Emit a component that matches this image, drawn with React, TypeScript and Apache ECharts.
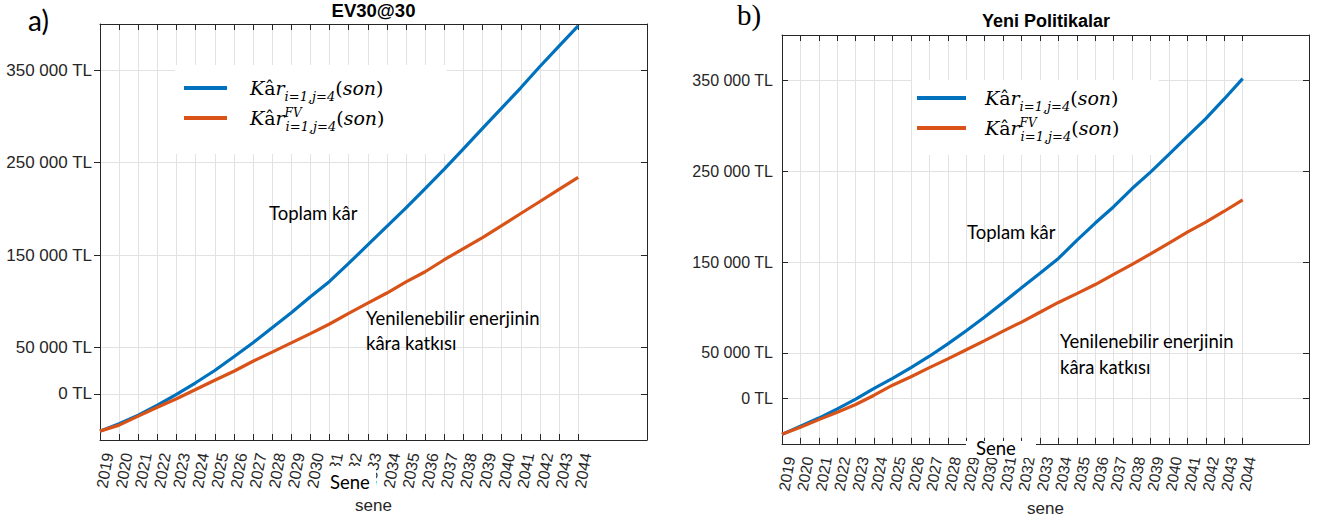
import React, { useEffect, useRef } from "react";
import * as echarts from "echarts";

// ---------- data ----------
const years = [2019, 2020, 2021, 2022, 2023, 2024, 2025, 2026, 2027, 2028, 2029, 2030, 2031, 2032, 2033, 2034, 2035, 2036, 2037, 2038, 2039, 2040, 2041, 2042, 2043, 2044];

// a) EV30@30
const aTotal = [-40400, -32300, -23100, -12300, -700, 11900, 25200, 40100, 55200, 71400, 87600, 104900, 121500, 141000, 161000, 181000, 201000, 222000, 243000, 265000, 287000, 309000, 331000, 354000, 376000, 398000];
const aFV = [-40400, -33900, -24200, -14500, -5400, 4600, 14700, 24400, 35200, 45000, 55100, 65100, 75500, 87000, 98000, 109000, 121000, 132000, 145000, 157000, 169000, 182000, 195000, 208000, 221000, 234000];

// b) Yeni Politikalar
const bTotal = [-39600, -30600, -21700, -11600, -900, 11000, 22000, 33900, 46400, 60000, 74400, 89500, 105600, 121700, 137800, 154000, 174000, 193000, 211000, 231000, 249000, 268600, 288400, 308000, 329600, 352000];
const bFV = [-39600, -31700, -23400, -15200, -6700, 3500, 14500, 23800, 33900, 43500, 53500, 63600, 74000, 84000, 94800, 105600, 115300, 125300, 136500, 147500, 159000, 171000, 183000, 194000, 206000, 218500];

const yTicks = [0, 50000, 150000, 250000, 350000];
const titles = ["EV30@30", "Yeni Politikalar"];
const xName = "sene";

// ---------- style ----------
const BLUE = "#0072BD";
const ORANGE = "#D95319";
const AXIS = "#262626";
const GRID = "#e2e2e2";
const SANS = "Liberation Sans";
const ANN = "Lato";
const MATH = "DejaVu Serif";
const SHIFT = 0.42;

const fmtY = (v: number) => (v === 0 ? "0 TL" : `${Math.round(v / 1000)} 000 TL`);

function pairs(vals: number[]) {
  return years.map((y, i) => [y, vals[i]]);
}

function xAxes(g: number, fs: number) {
  return [
    {
      type: "value", gridIndex: g, position: "bottom", min: 2019, max: 2047.6,
      axisLine: { show: true, onZero: false, lineStyle: { color: AXIS, width: 1 } },
      axisTick: { show: true, inside: true, length: 6, customValues: years, lineStyle: { color: AXIS } },
      axisLabel: {
        show: true, customValues: years.map((y) => y + SHIFT),
        formatter: (v: number) => String(Math.round(v - SHIFT)),
        rotate: 80, fontSize: fs, fontFamily: SANS, color: AXIS, margin: 13,
      },
      splitLine: { show: true, lineStyle: { color: GRID, width: 1 } },
      name: xName, nameLocation: "middle", nameGap: 54,
      nameTextStyle: { fontSize: 17, fontFamily: SANS, color: AXIS },
    },
    {
      type: "value", gridIndex: g, position: "top", min: 2019, max: 2047.6,
      axisLine: { show: true, onZero: false, lineStyle: { color: AXIS, width: 1 } },
      axisTick: { show: true, inside: true, length: 6, customValues: years, lineStyle: { color: AXIS } },
      axisLabel: { show: false },
      splitLine: { show: false },
    },
  ];
}

function yAxes(g: number, fs: number, tickInside: boolean, margin: number) {
  return [
    {
      type: "value", gridIndex: g, position: "left", min: -50000, max: 400000,
      axisLine: { show: true, onZero: false, lineStyle: { color: AXIS, width: 1 } },
      axisTick: { show: true, inside: tickInside, length: 6, customValues: yTicks, lineStyle: { color: AXIS } },
      axisLabel: { show: true, customValues: yTicks, formatter: fmtY, fontSize: fs, fontFamily: SANS, color: AXIS, margin },
      splitLine: { show: true, lineStyle: { color: GRID, width: 1 } },
    },
    {
      type: "value", gridIndex: g, position: "right", min: -50000, max: 400000,
      axisLine: { show: true, onZero: false, lineStyle: { color: AXIS, width: 1 } },
      axisTick: { show: true, inside: true, length: 6, customValues: yTicks, lineStyle: { color: AXIS } },
      axisLabel: { show: false },
      splitLine: { show: false },
    },
  ];
}

const rich = {
  sp1: { width: 18 },
  sp2: { width: 14 },
  ki: { fontSize: 19, fontStyle: "italic", fontFamily: MATH, lineHeight: 30, color: "#000" },
  kn: { fontSize: 19, fontFamily: MATH, lineHeight: 30, color: "#000" },
  sub: { fontSize: 13, fontStyle: "italic", fontFamily: MATH, lineHeight: 14, verticalAlign: "bottom", color: "#000" },
  sup: { fontSize: 12, fontStyle: "italic", fontFamily: MATH, lineHeight: 13, padding: [4, 0, 0, 0], verticalAlign: "top", width: 1, color: "#000" },
};

function legendText(name: string) {
  const sp = name.startsWith("a") ? "{sp1| }" : "{sp2| }";
  const fv = name.endsWith("FV") ? "{sup|FV}" : "";
  return `${sp}{ki|K}{kn|â}{ki|r}${fv}{sub|i=1,j=4}{kn|(}{ki|son}{kn|)}`;
}

function line(name: string, vals: number[], color: string, xi: number, yi: number) {
  return {
    type: "line", name, xAxisIndex: xi, yAxisIndex: yi, data: pairs(vals),
    showSymbol: false, symbol: "none", smooth: false,
    lineStyle: { width: 3.2, color }, itemStyle: { color }, z: 3,
  };
}

function txt(x: number, y: number, text: string, size: number, font: string, extra: any = {}) {
  return {
    type: "text", x, y, z: 100,
    style: { text, fontSize: size, fontFamily: font, fill: "#000", textVerticalAlign: "middle", verticalAlign: "middle", ...extra },
  };
}

export default function App() {
  const ref = useRef<HTMLDivElement>(null);
  useEffect(() => {
    if (!ref.current) return;
    const chart = echarts.init(ref.current, undefined, { renderer: "svg" });
    chart.setOption({
      animation: false,
      backgroundColor: "#fff",
      grid: [
        { left: 100, top: 24, width: 547, height: 416, containLabel: false },
        { left: 782, top: 35, width: 527, height: 417, containLabel: false },
      ],
      xAxis: [...xAxes(0, 16), ...xAxes(1, 15.5)],
      yAxis: [...yAxes(0, 17, false, 8), ...yAxes(1, 16, true, 9)],
      legend: [
        {
          orient: "vertical", left: 175, top: 65, padding: [8, 62, 21, 9], backgroundColor: "#fff",
          itemWidth: 43, itemHeight: 4, itemGap: 0, icon: "rect", selectedMode: false,
          data: ["aTot", "aFV"], formatter: legendText,
          textStyle: { rich, fontFamily: MATH, fontSize: 19, lineHeight: 30 },
        },
        {
          orient: "vertical", left: 912, top: 80, padding: [3, 39, 12, 5], backgroundColor: "#fff",
          itemWidth: 49, itemHeight: 4, itemGap: 0, icon: "rect", selectedMode: false,
          data: ["bTot", "bFV"], formatter: legendText,
          textStyle: { rich, fontFamily: MATH, fontSize: 19, lineHeight: 30 },
        },
      ],
      series: [
        line("aTot", aTotal, BLUE, 0, 0),
        line("aFV", aFV, ORANGE, 0, 0),
        line("bTot", bTotal, BLUE, 2, 2),
        line("bFV", bFV, ORANGE, 2, 2),
      ],
      graphic: [
        txt(373.5, 10, titles[0], 18.5, SANS, { fontWeight: "bold", textAlign: "center", align: "center" }),
        txt(1046, 21, titles[1], 18, SANS, { fontWeight: "bold", textAlign: "center", align: "center" }),
        txt(28, 20, "a)", 28, ANN),
        txt(737, 15, "b)", 29, "Liberation Serif"),
        txt(269, 213, "Toplam kâr", 18.5, ANN),
        txt(366, 318, "Yenilenebilir enerjinin", 18.5, ANN),
        txt(366, 343, "kâra katkısı", 18.5, ANN),
        txt(967, 232, "Toplam kâr", 18.5, ANN),
        txt(1060, 341, "Yenilenebilir enerjinin", 18.5, ANN),
        txt(1060, 367, "kâra katkısı", 18.5, ANN),
        { type: "rect", z: 99, shape: { x: 325, y: 466, width: 51, height: 29 }, style: { fill: "#fff" } },
        txt(330, 482, "Sene", 18.5, ANN),
        { type: "rect", z: 99, shape: { x: 966, y: 441, width: 70, height: 17 }, style: { fill: "#fff" } },
        txt(976, 448, "Sene", 18.5, ANN),
      ],
    });
    return () => chart.dispose();
  }, []);
  return <div ref={ref} style={{ position: "absolute", left: 0, top: 0, width: 1331, height: 522 }} />;
}
